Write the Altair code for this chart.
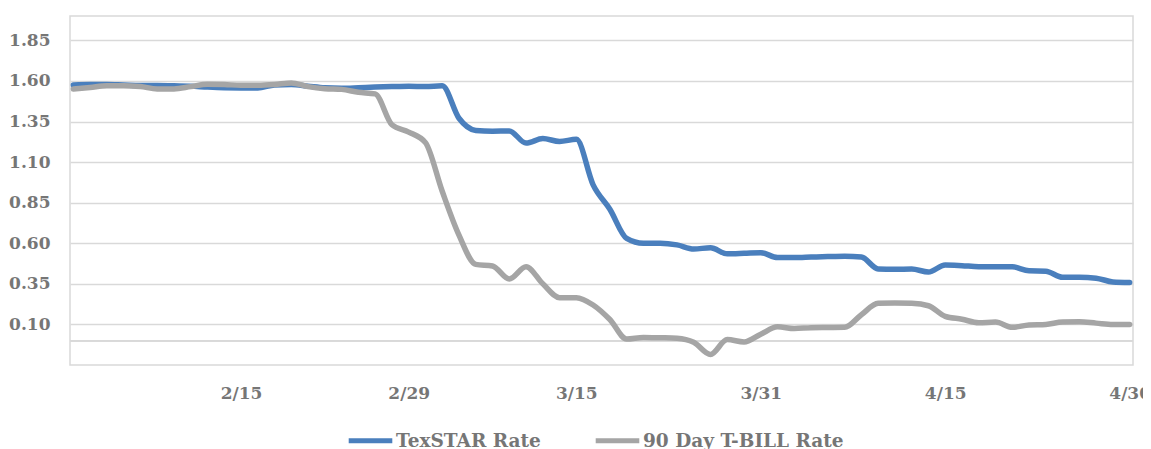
import altair as alt
import pandas as pd

# Business days, Feb 3 - Apr 30 (2020)
dates = [f"{d.month}/{d.day}" for d in pd.bdate_range("2020-02-03", "2020-04-30")]

texstar = [
    1.575, 1.578, 1.578, 1.575, 1.572, 1.572, 1.570, 1.568, 1.562, 1.558,
    1.557, 1.557, 1.575, 1.578, 1.568, 1.558, 1.555, 1.558, 1.562, 1.565,
    1.567, 1.565, 1.570, 1.370, 1.295, 1.290, 1.292, 1.217, 1.245, 1.227,
    1.240, 0.960, 0.810, 0.630, 0.600, 0.600, 0.590, 0.565, 0.572, 0.535,
    0.538, 0.542, 0.512, 0.512, 0.515, 0.518, 0.520, 0.515, 0.442, 0.440,
    0.441, 0.423, 0.466, 0.462, 0.456, 0.456, 0.455, 0.430, 0.428, 0.390,
    0.390, 0.385, 0.362, 0.359,
]
tbill = [
    1.550, 1.560, 1.571, 1.571, 1.565, 1.551, 1.551, 1.565, 1.580, 1.578,
    1.573, 1.573, 1.578, 1.588, 1.565, 1.552, 1.548, 1.530, 1.520, 1.330,
    1.285, 1.220, 0.920, 0.650, 0.470, 0.460, 0.380, 0.455, 0.350, 0.265,
    0.265, 0.220, 0.130, 0.010, 0.020, 0.018, 0.015, -0.010, -0.085, 0.007,
    -0.008, 0.040, 0.085, 0.075, 0.080, 0.081, 0.082, 0.160, 0.230, 0.232,
    0.230, 0.215, 0.150, 0.132, 0.110, 0.115, 0.082, 0.097, 0.100, 0.115,
    0.116, 0.108, 0.100, 0.100,
]

series_names = ["TexSTAR Rate", "90 Day T-BILL Rate"]
series_colors = ["#4a7fbd", "#a5a5a5"]

tick_dates = ["2/17", "3/2", "3/16", "3/31", "4/15", "4/30"]
tick_texts = ["2/15", "2/29", "3/15", "3/31", "4/15", "4/30"]
y_ticks = [0.10, 0.35, 0.60, 0.85, 1.10, 1.35, 1.60, 1.85]

rows = []
for name, vals in zip(series_names, [texstar, tbill]):
    for i, (d, v) in enumerate(zip(dates, vals)):
        rows.append({"date": d, "rate": v, "series": name, "order": i})
df = pd.DataFrame(rows)

label_map = "{" + ",".join(f"'{a}':'{b}'" for a, b in zip(tick_dates, tick_texts)) + "}"

FONT = "DejaVu Serif"
TXT = "#767676"
GRID = "#d9d9d9"

x = alt.X(
    "date:N",
    sort=dates,
    scale=alt.Scale(type="point", padding=0.2),
    axis=alt.Axis(
        values=tick_dates,
        labelExpr=f"{label_map}[datum.value]",
        title=None,
        labelAngle=0,
        ticks=False,
        domain=False,
        grid=False,
        labelFont=FONT,
        labelFontWeight="bold",
        labelFontSize=17,
        labelColor=TXT,
        labelPadding=20,
    ),
)
y = alt.Y(
    "rate:Q",
    scale=alt.Scale(domain=[-0.15, 2.0], nice=False, zero=False),
    axis=alt.Axis(
        values=y_ticks,
        format=".2f",
        title=None,
        ticks=False,
        domain=False,
        grid=True,
        gridColor=GRID,
        gridWidth=1.5,
        labelFont=FONT,
        labelFontWeight="bold",
        labelFontSize=17,
        labelColor=TXT,
        labelPadding=20,
    ),
)

lines = alt.Chart(df).mark_line(strokeWidth=5.5, interpolate="monotone", strokeCap="round").encode(
    x=x,
    y=y,
    order="order:Q",
    color=alt.Color(
        "series:N",
        sort=series_names,
        scale=alt.Scale(domain=series_names, range=series_colors),
        legend=alt.Legend(
            title=None,
            orient="none",
            direction="horizontal",
            legendX=276,
            legendY=400,
            symbolType="stroke",
            symbolSize=1900,
            symbolStrokeWidth=5,
            labelFont=FONT,
            labelFontWeight="bold",
            labelFontSize=18.5,
            labelColor=TXT,
            labelOffset=1,
            labelLimit=400,
            columnPadding=44,
            padding=0,
        ),
    ),
)

zero_line = alt.Chart(df).mark_rule(color=GRID, strokeWidth=1.5).encode(y=alt.datum(0))

chart = (
    alt.layer(zero_line, lines)
    .properties(
        width=1063,
        height=349,
        autosize=alt.AutoSizeParams(type="none"),
        padding={"left": 62, "top": 8, "right": 10, "bottom": 84},
        background="white",
    )
    .configure_view(stroke=GRID, strokeWidth=1.5)
)

chart.save("out.html", embed_options={"renderer": "svg", "actions": False})
